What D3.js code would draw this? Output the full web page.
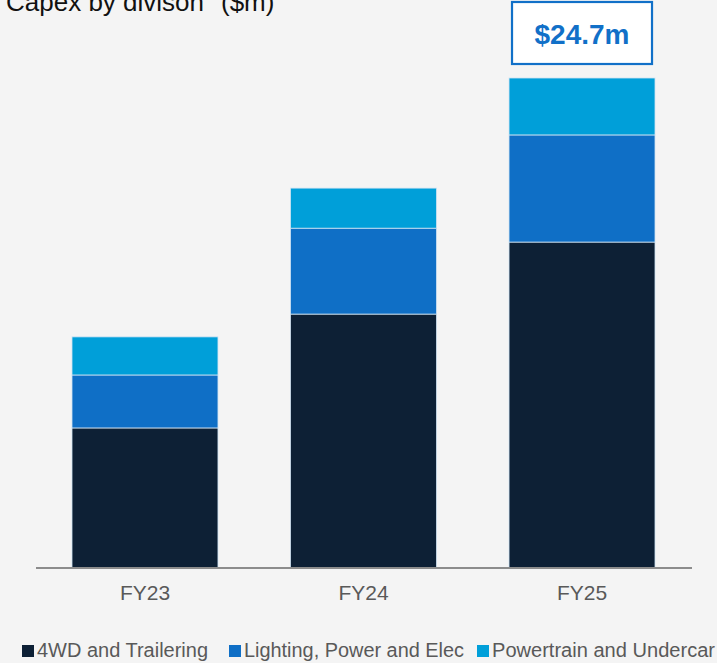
<!DOCTYPE html>
<html><head><meta charset="utf-8">
<script src="https://cdn.jsdelivr.net/npm/d3@7"></script>
<style>
html,body{margin:0;padding:0;background:#f4f4f4;}
svg{display:block;font-family:Arial,"Liberation Sans",sans-serif;}
</style></head><body>
<svg id="chart" width="717" height="663"></svg>
<script>
const categories = ["FY23", "FY24", "FY25"];
const seriesNames = ["4WD and Trailering", "Lighting, Power and Elec", "Powertrain and Undercar"];
const fourWD = [7.06, 12.8, 16.43];
const lighting = [2.67, 4.33, 5.4];
const powertrain = [1.92, 2.02, 2.87];
const totalLabel = "$24.7m";
const colors = ["#0d2035", "#0f6fc6", "#009fd9"];

const svg = d3.select("#chart");
const x = d3.scaleBand().domain(categories).range([72, 655]).paddingInner(0.332).paddingOuter(0);
const y = d3.scaleLinear().domain([0, 24.7]).range([568, 78]);

const data = categories.map((c, i) => ({cat: c, a: fourWD[i], b: lighting[i], c: powertrain[i]}));
const stack = d3.stack().keys(["a", "b", "c"])(data);

svg.append("g").selectAll("g").data(stack).join("g")
  .attr("fill", (d, i) => colors[i])
  .selectAll("rect").data(d => d).join("rect")
  .attr("x", d => x(d.data.cat))
  .attr("width", x.bandwidth())
  .attr("y", d => y(d[1]))
  .attr("height", d => y(d[0]) - y(d[1]))
  .attr("stroke", "#cfe3f3").attr("stroke-width", 0.8);

// axis
const ax = svg.append("g").attr("transform", "translate(0,568)")
  .call(d3.axisBottom(x).tickSize(0).tickPadding(17));
ax.select(".domain").attr("stroke", "#8c8c8c").attr("stroke-width", 2).attr("d", "M36,0H692");
ax.selectAll("text").attr("font-size", 21).attr("fill", "#595959")
  .attr("font-family", "Arial, 'Liberation Sans', sans-serif");

// title
const t = svg.append("text").attr("x", 6).attr("y", 11).attr("font-size", 26).attr("fill", "#111");
t.append("tspan").text("Capex by divison");
t.append("tspan").attr("font-size", 16).attr("dy", -14).text("1");
t.append("tspan").attr("x", 221).attr("dy", 14).text("($m)");

// total label box
const cx = x("FY25") + x.bandwidth() / 2;
svg.append("rect").attr("x", cx - 70).attr("y", 2).attr("width", 140).attr("height", 62)
  .attr("fill", "#fff").attr("stroke", "#1170c8").attr("stroke-width", 2.2);
svg.append("text").attr("x", cx).attr("y", 44).attr("text-anchor", "middle")
  .attr("font-size", 28).attr("font-weight", "bold").attr("fill", "#1170c8").text(totalLabel);

// legend
const legX = [22, 229, 477];
const legW = [171, 220, 223];
const lg = svg.append("g").selectAll("g").data(seriesNames).join("g")
  .attr("transform", (d, i) => `translate(${legX[i]},657)`);
lg.append("rect").attr("x", 0).attr("y", -12).attr("width", 12).attr("height", 12)
  .attr("fill", (d, i) => colors[i]);
lg.append("text").attr("x", 15).attr("y", 0).attr("font-size", 20).attr("fill", "#595959")
  .attr("textLength", (d, i) => legW[i]).attr("lengthAdjust", "spacingAndGlyphs").text(d => d);
</script>
</body></html>
